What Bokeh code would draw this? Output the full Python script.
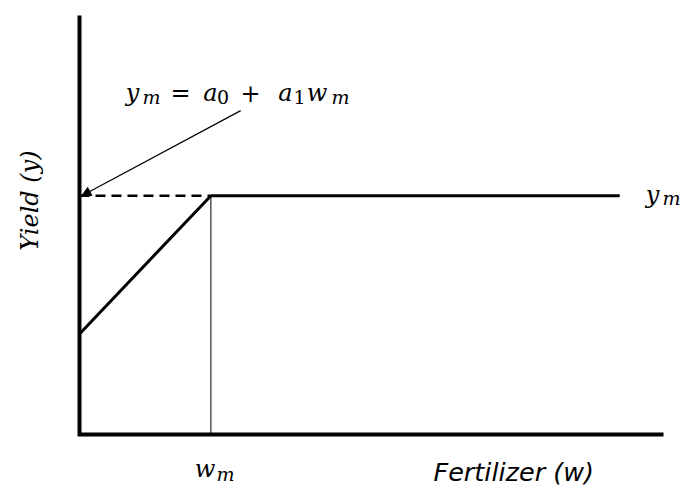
import math
from bokeh.plotting import figure
from bokeh.models import Range1d, Arrow, NormalHead
from bokeh.core.properties import value
from bokeh.embed import file_html
from bokeh.resources import INLINE

# ---- data (conceptual units) ----
w_max = 10.0          # end of the fertilizer axis
y_max = 10.0          # top of the yield axis
w_m = 2.25            # fertilizer level where yield plateaus
y_m = 5.7             # plateau (maximum) yield
a_0 = 2.4             # intercept
w_end = 9.25          # end of plateau line

axis_w = [0.0, 0.0, w_max]
axis_y = [y_max, 0.0, 0.0]
ramp_w = [0.0, w_m]
ramp_y = [a_0, y_m]
plateau_w = [w_m, w_end]
plateau_y = [y_m, y_m]
dash_w = [0.0, w_m]
dash_y = [y_m, y_m]
drop_w = [w_m, w_m]
drop_y = [0.0, y_m]
arrow_start = [2.76, 7.73]
arrow_end = [0.04, 5.7]

# ---- layout: page-pixel <-> data helpers (for label placement) ----
X0, XS = 79.0, 58.4    # page x of w=0, px per unit
Y0, YS = 434.0, 41.9   # page y of y=0, px per unit
W, H = 681, 485
OFF = 0
BL = 8                 # baseline correction for text glyphs

def px(xp):
    return (xp - X0) / XS

def py(yp):
    return (Y0 - yp) / YS

p = figure(width=W, height=H, output_backend="svg", toolbar_location=None,
           x_range=Range1d(px(OFF), px(OFF + W)), y_range=Range1d(py(OFF + H), py(OFF)),
           x_axis_type=None, y_axis_type=None, min_border=0)
p.grid.visible = False
p.outline_line_color = None
p.background_fill_color = "white"
p.border_fill_color = "white"

# axes
p.line(axis_w, axis_y, line_color="black", line_width=4, line_join="miter")
# lines
p.line(dash_w, dash_y, line_color="black", line_width=2.5, line_dash="10 6")
p.line(ramp_w, ramp_y, line_color="black", line_width=3)
p.line(plateau_w, plateau_y, line_color="black", line_width=3)
p.line(drop_w, drop_y, line_color="black", line_width=1)

p.add_layout(Arrow(end=NormalHead(size=9, fill_color="black", line_color="black", line_width=1),
                   x_start=arrow_start[0], y_start=arrow_start[1],
                   x_end=arrow_end[0], y_end=arrow_end[1],
                   line_color="black", line_width=1.2))

MATH = "DejaVu Serif"
M, S = 24, 19

def put(t, xc, yb, size, font=MATH, style="italic", align="center", angle=0.0, baseline="alphabetic"):
    yy = yb - BL if baseline == "alphabetic" else yb
    p.text(x=[px(xc)], y=[py(yy)], text=[t], text_font=value(font), text_font_style=style,
           text_font_size=f"{size}px", text_align=align, text_baseline=baseline,
           text_color="black", angle=angle)

# equation y_m = a_0 + a_1 w_m
eq = [("y", 132, 100, M), ("m", 151, 104, S), ("=", 180, 100, M), ("a", 210, 100, M),
      ("0", 222.5, 104, S), ("+", 250, 100, M), ("a", 285, 100, M), ("1", 299, 104, S),
      ("w", 316.5, 100, M), ("m", 340, 104, S)]
for t, xc, yb, s in eq:
    st = "normal" if t in "=+01" else "italic"
    put(t, xc, yb, s, style=st)

# right label y_m
put("y", 652, 202, M)
put("m", 671, 205, S)
# bottom label w_m
put("w", 204.5, 476, M)
put("m", 225, 481, S)
# axis titles
put("Fertilizer (w)", 433, 479, 25.5, font="DejaVu Sans", align="left")
put("Yield (y)", 29, 200, 24, angle=math.pi / 2, baseline="middle")

open("out.html", "w").write(file_html(p, INLINE))
